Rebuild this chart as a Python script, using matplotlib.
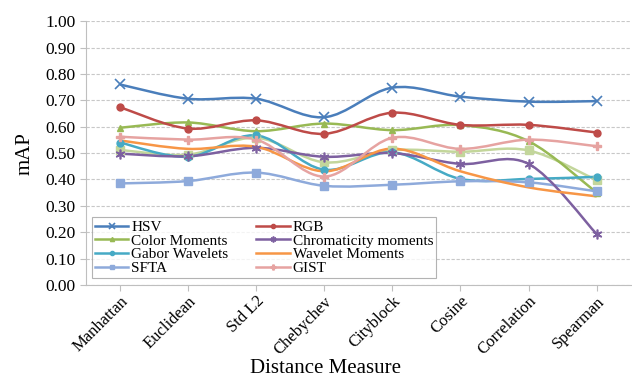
import numpy as np
import matplotlib.pyplot as plt
from matplotlib.path import Path
from matplotlib.patches import PathPatch

categories = ["Manhattan", "Euclidean", "Std L2", "Chebychev", "Cityblock",
              "Cosine", "Correlation", "Spearman"]

hsv = [0.76, 0.706, 0.706, 0.636, 0.748, 0.714, 0.695, 0.697]
rgb = [0.674, 0.593, 0.624, 0.573, 0.653, 0.607, 0.607, 0.578]
color_moments = [0.596, 0.616, 0.583, 0.612, 0.587, 0.606, 0.545, 0.35]
chromaticity = [0.498, 0.488, 0.52, 0.486, 0.50, 0.459, 0.459, 0.193]
gabor = [0.54, 0.486, 0.567, 0.437, 0.503, 0.402, 0.402, 0.41]
wavelet = [0.548, 0.516, 0.524, 0.431, 0.517, 0.431, 0.37, 0.336]
sfta = [0.385, 0.394, 0.426, 0.376, 0.38, 0.393, 0.389, 0.355]
gist = [0.562, 0.551, 0.551, 0.411, 0.558, 0.516, 0.551, 0.526]
extra = [0.512, 0.494, 0.558, 0.465, 0.511, 0.505, 0.51, 0.397]

plt.rcParams['font.family'] = ['Liberation Serif', 'DejaVu Serif']

fig = plt.figure(figsize=(6.32, 3.78), dpi=100)
ax = fig.add_axes([0.136, 0.246, 0.862, 0.698])


def smooth_path(x, y):
    # Excel-like smoothed line through the points (Catmull-Rom as Bezier)
    pts = np.column_stack([x, y]).astype(float)
    n = len(pts)
    verts = [pts[0]]
    codes = [Path.MOVETO]
    for i in range(n - 1):
        p0 = pts[i - 1] if i > 0 else pts[i]
        p1 = pts[i]
        p2 = pts[i + 1]
        p3 = pts[i + 2] if i + 2 < n else pts[i + 1]
        c1 = p1 + (p2 - p0) / 6.0
        c2 = p2 - (p3 - p1) / 6.0
        verts += [c1, c2, p2]
        codes += [Path.CURVE4] * 3
    return Path(verts, codes)


x = np.arange(len(categories))
series = [
    ("HSV", hsv, "#4a7ebb", "x", 7, 1.2),
    ("Color Moments", color_moments, "#98b954", "^", 5, 1),
    ("Gabor Wavelets", gabor, "#46aac5", "o", 5, 1),
    ("SFTA", sfta, "#8eaadb", "s", 6, 1),
    ("RGB", rgb, "#be4b48", "o", 5, 1),
    ("Chromaticity moments", chromaticity, "#7d60a0", (6, 2, 0), 7, 1.2),
    ("Wavelet Moments", wavelet, "#f79646", None, 0, 1),
    ("GIST", gist, "#e6a3a1", "P", 6, 1),
]

# unlabelled light green series
ax.add_patch(PathPatch(smooth_path(x, extra), fill=False, edgecolor="#c3d69b",
                       lw=1.8, zorder=2))
ax.plot(x, extra, ls="none", marker="s", ms=6, color="#c3d69b", zorder=3)

handles = []
for name, vals, col, mk, ms, mew in series:
    ax.add_patch(PathPatch(smooth_path(x, vals), fill=False, edgecolor=col,
                           lw=1.8, zorder=2))
    h, = ax.plot(x, vals, ls="none", marker=mk, ms=ms, mew=mew, color=col,
                 zorder=3)
    lh, = ax.plot([], [], color=col, lw=1.8, marker=mk, ms=ms * 0.6, mew=mew)
    handles.append((lh, name))

ax.set_xlim(-0.5, 7.5)
ax.set_ylim(0, 1.0)
ax.set_yticks(np.arange(0, 1.01, 0.1))
ax.set_yticklabels([f"{v:.2f}" for v in np.arange(0, 1.01, 0.1)], fontsize=12.5)
ax.set_xticks(x)
ax.set_xticklabels(categories, rotation=45, ha="right", rotation_mode="anchor",
                   fontsize=12)
ax.grid(axis="y", color="#c8c8c8", lw=0.8, ls=(0, (3, 1.5)))
ax.set_axisbelow(True)
for s in ["top", "right"]:
    ax.spines[s].set_visible(False)
for s in ["left", "bottom"]:
    ax.spines[s].set_color("#bfbfbf")
ax.tick_params(axis="both", colors="#bfbfbf", labelcolor="black", length=4)
ax.tick_params(axis="x", pad=2)
ax.set_ylabel("mAP", fontsize=15, labelpad=8)
ax.set_xlabel("Distance Measure", fontsize=15, va="baseline")
ax.xaxis.set_label_coords(0.439, -0.335)

leg = ax.legend([h for h, _ in handles], [n for _, n in handles], ncol=2,
                loc="lower left", bbox_to_anchor=(0.005, 0.015), fontsize=11,
                frameon=True, fancybox=False, borderpad=0.2, labelspacing=0.0,
                handlelength=2.2, handletextpad=0.2, columnspacing=1.8,
                borderaxespad=0.2)
leg.get_frame().set_edgecolor("#a0a0a0")
leg.get_frame().set_linewidth(0.8)
leg.set_zorder(5)

fig.savefig("out.png", dpi=100)
